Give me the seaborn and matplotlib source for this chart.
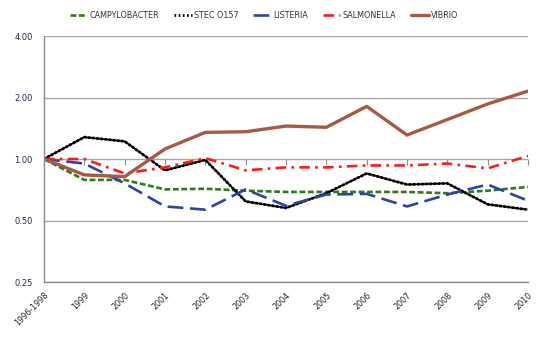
import matplotlib
matplotlib.use("Agg")
import matplotlib.pyplot as plt
import seaborn as sns
import pandas as pd

# Relative rates compared with the 1996-1998 baseline
periods = ["1996-1998", "1999", "2000", "2001", "2002", "2003", "2004",
           "2005", "2006", "2007", "2008", "2009", "2010"]

campylobacter = [1.00, 0.79, 0.79, 0.71, 0.715, 0.70, 0.69, 0.69, 0.69, 0.69, 0.68, 0.70, 0.73]
stec_o157 = [1.00, 1.28, 1.22, 0.88, 0.99, 0.62, 0.576, 0.68, 0.85, 0.75, 0.76, 0.60, 0.565]
listeria = [1.00, 0.95, 0.76, 0.586, 0.565, 0.71, 0.59, 0.67, 0.675, 0.586, 0.67, 0.75, 0.625]
salmonella = [1.00, 1.00, 0.85, 0.91, 1.01, 0.88, 0.91, 0.91, 0.93, 0.93, 0.95, 0.90, 1.035]
vibrio = [1.00, 0.836, 0.82, 1.12, 1.35, 1.36, 1.45, 1.43, 1.81, 1.31, 1.56, 1.86, 2.15]

series_names = ["CAMPYLOBACTER", "STEC O157", "LISTERIA", "SALMONELLA", "VIBRIO"]
series_values = [campylobacter, stec_o157, listeria, salmonella, vibrio]

y_ticks = [0.25, 0.5, 1.0, 2.0, 4.0]

rows = []
for name, vals in zip(series_names, series_values):
    for i, v in enumerate(vals):
        rows.append({"pos": i, "rate": v, "pathogen": name})
df = pd.DataFrame(rows)

palette = {
    "CAMPYLOBACTER": "#2E7A18",
    "STEC O157": "#000000",
    "LISTERIA": "#2B45A6",
    "SALMONELLA": "#FF1A1A",
    "VIBRIO": "#A65A45",
}
dashes = {
    "CAMPYLOBACTER": (2.2, 1.0),
    "STEC O157": (0.6, 0.9),
    "LISTERIA": (6.0, 2.5),
    "SALMONELLA": (4.0, 2.0, 1.0, 2.0),
    "VIBRIO": "",
}
widths = {"CAMPYLOBACTER": 1.9, "STEC O157": 2.0, "LISTERIA": 1.9,
          "SALMONELLA": 1.9, "VIBRIO": 2.4}

sns.set_style("white")
plt.rcParams["font.family"] = ["DejaVu Sans"]

fig = plt.figure(figsize=(5.5, 3.45), dpi=100)
ax = fig.add_axes([0.08, 0.1826, 0.88, 0.713])

sns.lineplot(data=df, x="pos", y="rate", hue="pathogen", style="pathogen",
             palette=palette, dashes=dashes, hue_order=series_names,
             style_order=series_names, linewidth=2.0, ax=ax, legend=True)
for line, name in zip(ax.lines[:len(series_names)], series_names):
    line.set_linewidth(widths[name])
ax.lines[1].set_dash_capstyle("round")

ax.set_yscale("log", base=2)
ax.set_ylim(0.25, 4.0)
ax.set_yticks(y_ticks)
ax.set_yticklabels([f"{t:.2f}" for t in y_ticks])
ax.minorticks_off()
ax.set_xlim(0, len(periods) - 1)
ax.set_xticks(range(len(periods)))
ax.set_xticklabels(periods, rotation=45, ha="right", rotation_mode="anchor")
ax.set_xlabel("")
ax.set_ylabel("")

ax.grid(axis="y", color="#A6A6A6", linewidth=1.0)
ax.set_axisbelow(True)
for side in ["top", "right"]:
    ax.spines[side].set_visible(False)
for side in ["left", "bottom"]:
    ax.spines[side].set_color("#8C8C8C")
    ax.spines[side].set_linewidth(1.0)

ax.tick_params(axis="y", length=4, color="#8C8C8C", labelsize=6,
               labelcolor="#1F2A4A", pad=4)
ax.tick_params(axis="x", length=0, labelsize=5.8, labelcolor="#222222", pad=6)

# category ticks sit on the 1.00 line
sec = ax.secondary_xaxis(0.5)
sec.set_xticks(range(len(periods)))
sec.tick_params(axis="x", direction="in", length=4, color="#8C8C8C",
                labelbottom=False, labeltop=False)
sec.spines["bottom"].set_visible(False)
sec.spines["top"].set_visible(False)

handles, labels = ax.get_legend_handles_labels()
for h, name in zip(handles, labels):
    h.set_linewidth(widths.get(name, 2.0))
ax.legend_.remove()
fig.legend(handles, labels, loc="center", bbox_to_anchor=(0.48, 0.955),
           ncol=5, frameon=False, fontsize=5.8, handlelength=2.2,
           handletextpad=0.3, columnspacing=1.8, labelcolor="#333333")

fig.savefig("out.png", dpi=100)
